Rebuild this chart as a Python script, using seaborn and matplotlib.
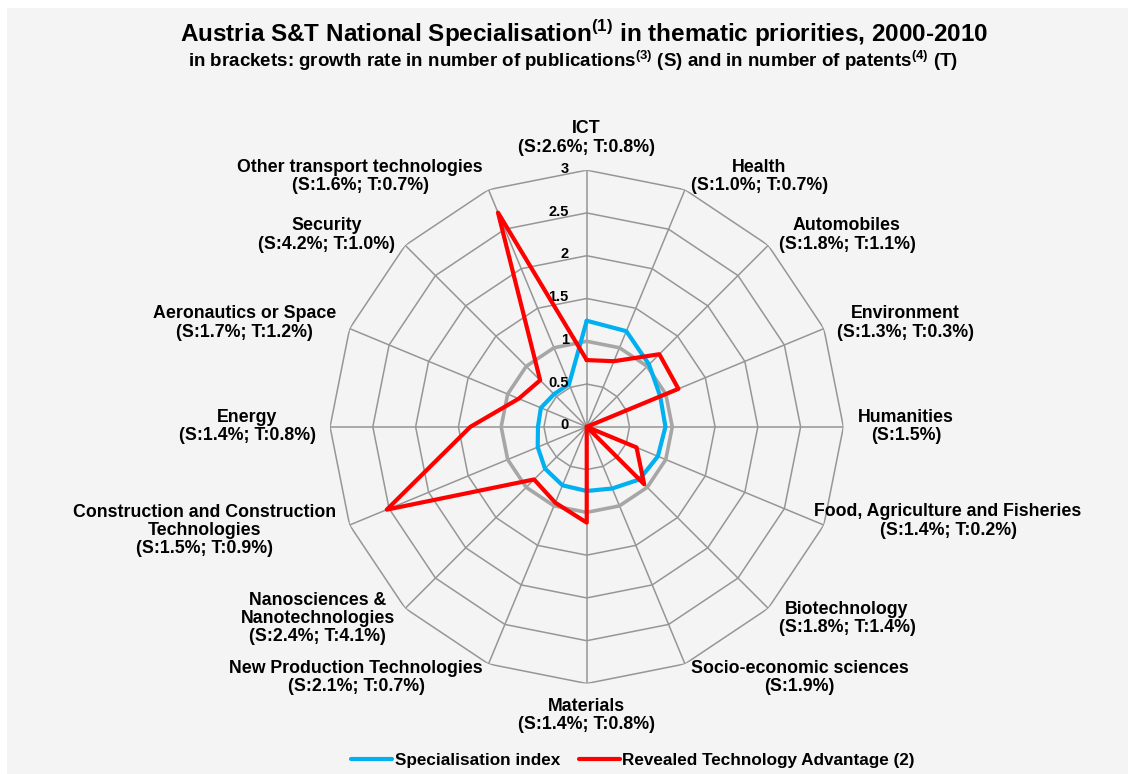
import numpy as np
import seaborn as sns
import matplotlib.pyplot as plt
from matplotlib.patches import Rectangle


# categories clockwise from the top
categories = [
    "ICT\n(S:2.6%; T:0.8%)",
    "Health\n(S:1.0%; T:0.7%)",
    "Automobiles\n(S:1.8%; T:1.1%)",
    "Environment\n(S:1.3%; T:0.3%)",
    "Humanities\n(S:1.5%)",
    "Food, Agriculture and Fisheries\n(S:1.4%; T:0.2%)",
    "Biotechnology\n(S:1.8%; T:1.4%)",
    "Socio-economic sciences\n(S:1.9%)",
    "Materials\n(S:1.4%; T:0.8%)",
    "New Production Technologies\n(S:2.1%; T:0.7%)",
    "Nanosciences &\nNanotechnologies\n(S:2.4%; T:4.1%)",
    "Construction and Construction\nTechnologies\n(S:1.5%; T:0.9%)",
    "Energy\n(S:1.4%; T:0.8%)",
    "Aeronautics or Space\n(S:1.7%; T:1.2%)",
    "Security\n(S:4.2%; T:1.0%)",
    "Other transport technologies\n(S:1.6%; T:0.7%)",
]
spec_index = [1.24, 1.21, 1.03, 0.93, 0.92, 0.90, 0.87, 0.78,
              0.75, 0.74, 0.69, 0.62, 0.57, 0.58, 0.54, 0.54]
rta = [0.78, 0.83, 1.20, 1.16, 0.0, 0.63, 0.95, 0.0,
       1.12, 0.96, 0.87, 2.53, 1.36, 0.86, 0.77, 2.71]
reference = [1.0, 1.0, 1.0, 1.0, 1.0, 1.0, 1.0, 1.0,
             1.0, 1.0, 1.0, 1.0, 1.0, 1.0, 1.0, 1.0]
rings = [0.5, 1.0, 1.5, 2.0, 2.5, 3.0]
ring_labels = ["0", "0.5", "1", "1.5", "2", "2.5", "3"]

sns.set_style("white")
plt.rcParams["font.family"] = ["Liberation Sans", "DejaVu Sans"]
plt.rcParams["text.color"] = "black"
plt.rcParams["mathtext.fontset"] = "custom"
plt.rcParams["mathtext.rm"] = "Liberation Sans:bold"
plt.rcParams["mathtext.bf"] = "Liberation Sans:bold"

BLUE = "#00B0F0"
RED = "#FF0000"
GRID = "#969696"
BASE = "#A6A6A6"

fig = plt.figure(figsize=(11.28, 7.74), dpi=100)
fig.patches.append(Rectangle((7 / 1128, 0), 1, 1 - 8 / 774, transform=fig.transFigure,
                             facecolor="#F4F4F4", edgecolor="none", zorder=-10))

ax = fig.add_axes([0.2926, 0.1169, 0.4551, 0.6633], projection="polar")
ax.set_theta_offset(np.pi / 2)
ax.set_theta_direction(-1)
ax.set_facecolor("none")
ax.grid(False)
ax.spines["polar"].set_visible(False)
ax.set_xticks([])
ax.set_yticks([])

n = len(categories)
theta = np.linspace(0, 2 * np.pi, n, endpoint=False)
theta_c = np.append(theta, theta[0])

# polygon grid
for r in rings:
    ax.plot(theta_c, [r] * (n + 1), color=GRID, lw=1.1, zorder=1)
for t in theta:
    ax.plot([t, t], [0, 3], color=GRID, lw=1.1, zorder=1)


def closed(vals):
    return np.append(vals, vals[0])


sns.lineplot(x=theta_c, y=closed(reference), sort=False, estimator=None, ax=ax,
             color=BASE, lw=2.6, zorder=2)
sns.lineplot(x=theta_c, y=closed(spec_index), sort=False, estimator=None, ax=ax,
             color=BLUE, lw=3, zorder=3, label="Specialisation index")
sns.lineplot(x=theta_c, y=closed(rta), sort=False, estimator=None, ax=ax,
             color=RED, lw=3, zorder=4, label="Revealed Technology Advantage (2)")
ax.set_ylim(0, 3)
ax.set_xlabel("")
ax.set_ylabel("")

handles, labels = ax.get_legend_handles_labels()
ax.get_legend().remove()

# ring values along the top spoke
for i, lab in enumerate(ring_labels):
    ax.annotate(lab, xy=(0, i * 0.5), xytext=(-13, 1), textcoords="offset points",
                ha="right", va="center", fontsize=10.5, fontweight="bold")

# category labels
label_r = [3.17] * n
label_r[5] = 2.88
for t, lab, r in zip(theta, categories, label_r):
    deg = np.degrees(t)
    if np.isclose(deg, 0):
        ha, va = "center", "bottom"
    elif np.isclose(deg, 180):
        ha, va = "center", "top"
    elif deg < 180:
        ha, va = "left", "center"
    else:
        ha, va = "right", "center"
    ax.text(t, r, lab, ha=ha, va=va, multialignment="center", fontsize=12.8,
            fontweight="bold", linespacing=1.1)

fig.text(0.518, 1 - 33 / 774,
         r"Austria S&T National Specialisation$^{(1)}$ in thematic priorities, 2000-2010",
         ha="center", va="center", fontsize=17.5, fontweight="bold")
fig.text(0.508, 1 - 61 / 774,
         r"in brackets: growth rate in number of publications$^{(3)}$ (S) and in number of patents$^{(4)}$ (T)",
         ha="center", va="center", fontsize=13.5, fontweight="bold")

fig.legend(handles, labels, loc="center", bbox_to_anchor=(0.561, 1 - 760 / 774), ncol=2,
           frameon=False, handlelength=2.4, handletextpad=0.15, columnspacing=1.1,
           prop={"weight": "bold", "size": 12.3})

fig.savefig("out.png", dpi=100)
